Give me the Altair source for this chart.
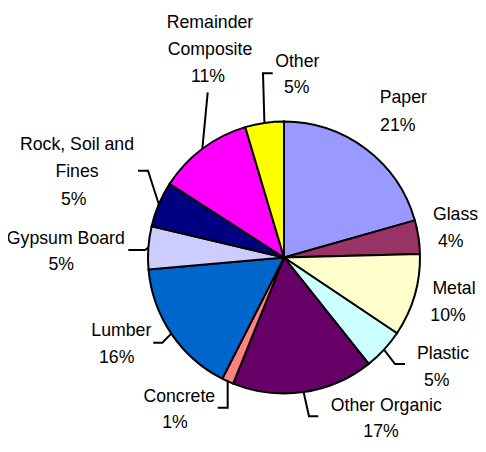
import altair as alt
import numpy as np
import pandas as pd

# ---------------- data ----------------
categories = ["Paper", "Glass", "Metal", "Plastic", "Other Organic", "Concrete",
              "Lumber", "Gypsum Board", "Rock, Soil and Fines",
              "Remainder Composite", "Other"]
shares = [20.6, 4.0, 9.8, 4.9, 16.8, 1.4, 16.1, 5.1, 5.4, 11.3, 4.6]
pct_labels = ["21%", "4%", "10%", "5%", "17%", "1%", "16%", "5%", "5%", "11%", "5%"]
name_lines = [["Paper"], ["Glass"], ["Metal"], ["Plastic"], ["Other Organic"],
              ["Concrete"], ["Lumber"], ["Gypsum Board"],
              ["Rock, Soil and", "Fines"], ["Remainder", "Composite"], ["Other"]]
colors = ["#9999FF", "#993366", "#FFFFCC", "#CCFFFF", "#660066", "#FF8080",
          "#0066CC", "#CCCCFF", "#000080", "#FF00FF", "#FFFF00"]

# ---------------- layout (page pixels, shifted into the plot) ----------------
OX, OY = -13, -8
PCX, PCY, R = 289, 257.5, 136
LINE_H = 27
name_x = [408.3, 460.5, 459, 448, 391.3, 184.3, 126.3, 70.8, 82, 215, 302.3]
name_y = [103.3, 220, 293.5, 358.5, 411, 401.5, 336, 243.5, 150, 28, 66.7]
pct_x = [402.8, 455.8, 453, 441.7, 386, 180, 121.7, 66.2, 78.7, 213, 301.7]
pct_y = [130.7, 247, 321, 386, 436.5, 428, 363, 270, 205, 82, 93.3]
# leader elbow point and end of the short horizontal tick (None = no leader)
leader_elbow = [None, None, None, (400, 364), (314, 416.3), (232.7, 407.7),
                (167.3, 342.7), (150, 250), (153, 170.7), (212.7, 92.3), (268, 73.3)]
leader_end = [None, None, None, (410, 364), (323.3, 416.3), (222.7, 407.7),
              (158.3, 342.7), (133.3, 250), (143, 170.7), (212.7, 92.3), (277.7, 73.3)]

CX, CY = PCX + OX, PCY + OY

# ---------------- tables ----------------
pie_df = pd.DataFrame({"category": categories, "share": shares,
                       "idx": list(range(len(categories)))})

rows = []
for i, lines in enumerate(name_lines):
    for j, t in enumerate(lines):
        rows.append({"text": t, "x": name_x[i] + OX, "y": name_y[i] + OY + j * LINE_H})
    rows.append({"text": pct_labels[i], "x": pct_x[i] + OX, "y": pct_y[i] + OY})
text_df = pd.DataFrame(rows)

vals = np.array(shares, dtype=float)
frac = vals / vals.sum()
mid = np.cumsum(frac) - frac / 2
lrows = []
for i in range(len(categories)):
    if leader_elbow[i] is None:
        continue
    th = mid[i] * 2 * np.pi
    sx, sy = CX + R * np.sin(th), CY - R * np.cos(th)
    pts = [(sx, sy),
           (leader_elbow[i][0] + OX, leader_elbow[i][1] + OY),
           (leader_end[i][0] + OX, leader_end[i][1] + OY)]
    for k, (px, py) in enumerate(pts):
        lrows.append({"leader": categories[i], "k": k, "x": px, "y": py})
lead_df = pd.DataFrame(lrows)

# ---------------- chart ----------------
pie = alt.Chart(pie_df).mark_arc(radius=R, stroke="black", strokeWidth=2).encode(
    theta=alt.Theta("share:Q", stack=True),
    order=alt.Order("idx:Q"),
    color=alt.Color("category:N", scale=alt.Scale(domain=categories, range=colors),
                    legend=None),
    x=alt.value(CX), y=alt.value(CY),
)

leaders = alt.Chart(lead_df).mark_line(color="black", strokeWidth=2).encode(
    x=alt.X("x:Q", scale=None, axis=None),
    y=alt.Y("y:Q", scale=None, axis=None),
    detail="leader:N",
    order="k:Q",
)

labels = alt.Chart(text_df).mark_text(
    align="center", baseline="alphabetic", font="Liberation Sans",
    fontSize=17.7, color="black"
).encode(
    x=alt.X("x:Q", scale=None, axis=None),
    y=alt.Y("y:Q", scale=None, axis=None),
    text="text:N",
)

chart = alt.layer(pie, leaders, labels).properties(
    width=470, height=432, padding=0, autosize="none", background="white"
).configure_view(stroke=None)

chart.save("out.html", embed_options={"renderer": "svg", "actions": False})
